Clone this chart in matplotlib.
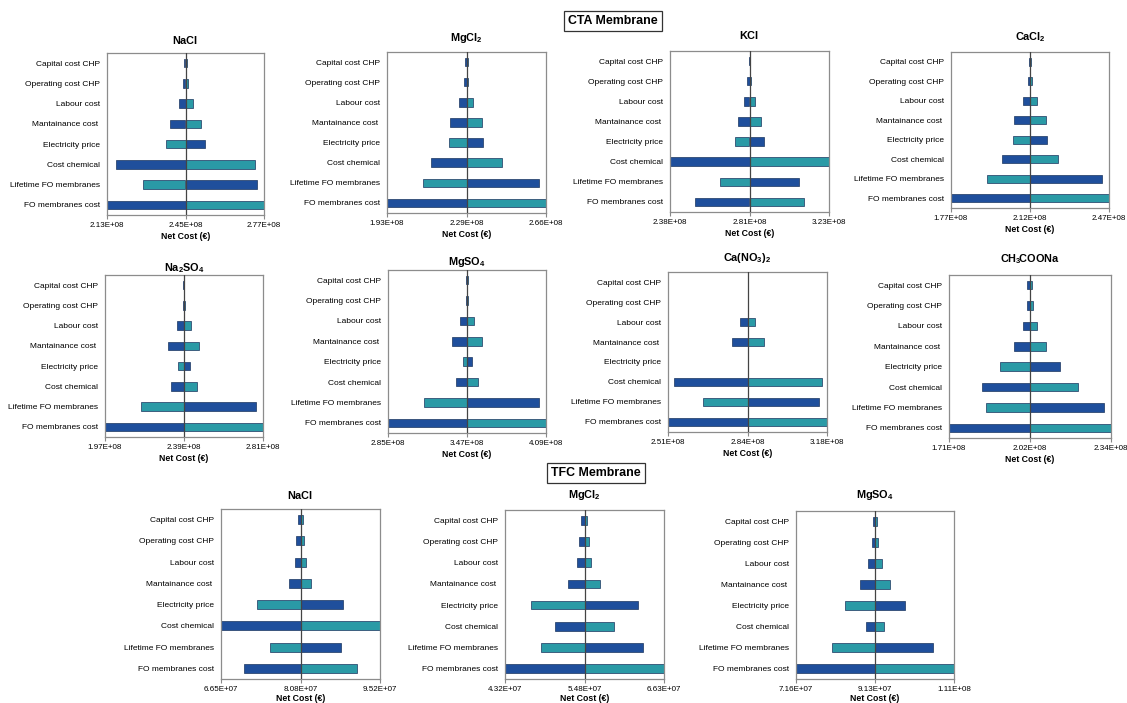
import numpy as np
import matplotlib.pyplot as plt

plt.rcParams['font.family'] = ['Liberation Sans', 'DejaVu Sans']
plt.rcParams['mathtext.fontset'] = 'custom'
plt.rcParams['mathtext.rm'] = 'Liberation Sans:bold'
plt.rcParams['mathtext.it'] = 'Liberation Sans:bold'
plt.rcParams['mathtext.bf'] = 'Liberation Sans:bold'

# Parametros (de cima para baixo)
parametros = ["Capital cost CHP", "Operating cost CHP", "Labour cost", "Mantainance cost ",
              "Electricity price", "Cost chemical", "Lifetime FO membranes", "FO membranes cost"]

# --- CTA membrane ---
cta_nacl_base = 2.45e8
cta_nacl_min = [2.444e8, 2.441e8, 2.422e8, 2.386e8, 2.372e8, 2.165e8, 2.276e8, 2.13e8]
cta_nacl_max = [2.456e8, 2.459e8, 2.479e8, 2.513e8, 2.528e8, 2.734e8, 2.740e8, 2.77e8]
cta_nacl_ticks = ["2.13E+08", "2.45E+08", "2.77E+08"]

cta_mgcl2_base = 2.295e8
cta_mgcl2_min = [2.288e8, 2.285e8, 2.262e8, 2.221e8, 2.216e8, 2.133e8, 2.094e8, 1.93e8]
cta_mgcl2_max = [2.300e8, 2.303e8, 2.327e8, 2.367e8, 2.371e8, 2.457e8, 2.626e8, 2.66e8]
cta_mgcl2_ticks = ["1.93E+08", "2.29E+08", "2.66E+08"]

cta_kcl_base = 2.805e8
cta_kcl_min = [2.801e8, 2.794e8, 2.776e8, 2.746e8, 2.728e8, 2.38e8, 2.647e8, 2.514e8]
cta_kcl_max = [2.810e8, 2.815e8, 2.833e8, 2.864e8, 2.883e8, 3.23e8, 3.070e8, 3.097e8]
cta_kcl_ticks = ["2.38E+08", "2.81E+08", "3.23E+08"]

cta_cacl2_base = 2.12e8
cta_cacl2_min = [2.115e8, 2.112e8, 2.088e8, 2.050e8, 2.043e8, 1.996e8, 1.931e8, 1.77e8]
cta_cacl2_max = [2.125e8, 2.128e8, 2.151e8, 2.190e8, 2.197e8, 2.245e8, 2.438e8, 2.47e8]
cta_cacl2_ticks = ["1.77E+08", "2.12E+08", "2.47E+08"]

cta_na2so4_base = 2.39e8
cta_na2so4_min = [2.387e8, 2.386e8, 2.352e8, 2.306e8, 2.357e8, 2.322e8, 2.162e8, 1.97e8]
cta_na2so4_max = [2.392e8, 2.393e8, 2.427e8, 2.471e8, 2.423e8, 2.457e8, 2.771e8, 2.81e8]
cta_na2so4_ticks = ["1.97E+08", "2.39E+08", "2.81E+08"]

cta_mgso4_base = 3.47e8
cta_mgso4_min = [3.465e8, 3.465e8, 3.418e8, 3.352e8, 3.436e8, 3.381e8, 3.132e8, 2.85e8]
cta_mgso4_max = [3.474e8, 3.474e8, 3.522e8, 3.588e8, 3.506e8, 3.559e8, 4.035e8, 4.09e8]
cta_mgso4_ticks = ["2.85E+08", "3.47E+08", "4.09E+08"]

cta_cano3_base = 2.845e8
cta_cano3_min = [2.845e8, 2.845e8, 2.815e8, 2.779e8, 2.845e8, 2.535e8, 2.657e8, 2.51e8]
cta_cano3_max = [2.845e8, 2.845e8, 2.877e8, 2.913e8, 2.845e8, 3.158e8, 3.145e8, 3.18e8]
cta_cano3_ticks = ["2.51E+08", "2.84E+08", "3.18E+08"]

cta_ch3coona_base = 2.025e8
cta_ch3coona_min = [2.015e8, 2.012e8, 1.996e8, 1.962e8, 1.909e8, 1.838e8, 1.853e8, 1.71e8]
cta_ch3coona_max = [2.032e8, 2.036e8, 2.053e8, 2.088e8, 2.141e8, 2.211e8, 2.313e8, 2.34e8]
cta_ch3coona_ticks = ["1.71E+08", "2.02E+08", "2.34E+08"]

# --- TFC membrane ---
tfc_nacl_base = 8.085e7
tfc_nacl_min = [8.034e7, 8.004e7, 7.986e7, 7.877e7, 7.303e7, 6.65e7, 7.533e7, 7.067e7]
tfc_nacl_max = [8.125e7, 8.155e7, 8.179e7, 8.282e7, 8.856e7, 9.52e7, 8.820e7, 9.103e7]
tfc_nacl_ticks = ["6.65E+07", "8.08E+07", "9.52E+07"]

tfc_mgcl2_base = 5.475e7
tfc_mgcl2_min = [5.424e7, 5.400e7, 5.366e7, 5.240e7, 4.699e7, 5.045e7, 4.845e7, 4.32e7]
tfc_mgcl2_max = [5.512e7, 5.546e7, 5.575e7, 5.696e7, 6.246e7, 5.901e7, 6.319e7, 6.63e7]
tfc_mgcl2_ticks = ["4.32E+07", "5.48E+07", "6.63E+07"]

tfc_mgso4_base = 9.13e7
tfc_mgso4_min = [9.080e7, 9.047e7, 8.964e7, 8.748e7, 8.390e7, 8.897e7, 8.049e7, 7.16e7]
tfc_mgso4_max = [9.180e7, 9.205e7, 9.305e7, 9.513e7, 9.870e7, 9.363e7, 10.584e7, 11.1e7]
tfc_mgso4_ticks = ["7.16E+07", "9.13E+07", "1.11E+08"]

# cores: azul escuro / turquesa ; True = azul do lado esquerdo
azul = "#1f4f9c"
turquesa = "#2a9aa6"
azul_esquerda = [True, True, True, True, False, True, False, True]

graficos = [
    (r"$\mathrm{NaCl}$", cta_nacl_base, cta_nacl_min, cta_nacl_max, cta_nacl_ticks),
    (r"$\mathrm{MgCl_2}$", cta_mgcl2_base, cta_mgcl2_min, cta_mgcl2_max, cta_mgcl2_ticks),
    (r"$\mathrm{KCl}$", cta_kcl_base, cta_kcl_min, cta_kcl_max, cta_kcl_ticks),
    (r"$\mathrm{CaCl_2}$", cta_cacl2_base, cta_cacl2_min, cta_cacl2_max, cta_cacl2_ticks),
    (r"$\mathrm{Na_2SO_4}$", cta_na2so4_base, cta_na2so4_min, cta_na2so4_max, cta_na2so4_ticks),
    (r"$\mathrm{MgSO_4}$", cta_mgso4_base, cta_mgso4_min, cta_mgso4_max, cta_mgso4_ticks),
    (r"$\mathrm{Ca(NO_3)_2}$", cta_cano3_base, cta_cano3_min, cta_cano3_max, cta_cano3_ticks),
    (r"$\mathrm{CH_3\!COONa}$", cta_ch3coona_base, cta_ch3coona_min, cta_ch3coona_max, cta_ch3coona_ticks),
    (r"$\mathrm{NaCl}$", tfc_nacl_base, tfc_nacl_min, tfc_nacl_max, tfc_nacl_ticks),
    (r"$\mathrm{MgCl_2}$", tfc_mgcl2_base, tfc_mgcl2_min, tfc_mgcl2_max, tfc_mgcl2_ticks),
    (r"$\mathrm{MgSO_4}$", tfc_mgso4_base, tfc_mgso4_min, tfc_mgso4_max, tfc_mgso4_ticks),
]

# caixas dos eixos em pixels (esquerda, topo, direita, baixo) e altura do titulo
caixas = [(107, 53, 264, 215), (387, 52, 546, 213), (670, 51, 829, 212), (951, 52, 1109, 208),
          (105, 275, 263, 437), (388, 270, 546, 433), (668, 272, 827, 432), (949, 275, 1111, 438),
          (221, 509, 380, 679), (505, 510, 664, 679), (796, 511, 954, 679)]
titulo_y = [40, 38, 35, 37, 268, 262, 258, 259, 495, 495, 495]

W, H = 1127, 703
fig = plt.figure(figsize=(W / 100, H / 100), dpi=100)

y = np.arange(len(parametros))
for (titulo, base, vmin, vmax, rotulos), (l, t, r, b), ty in zip(graficos, caixas, titulo_y):
    ax = fig.add_axes([l / W, 1 - b / H, (r - l) / W, (b - t) / H])
    vmin = np.array(vmin)
    vmax = np.array(vmax)
    cor_esq = [azul if a else turquesa for a in azul_esquerda]
    cor_dir = [turquesa if a else azul for a in azul_esquerda]
    ax.barh(y, base - vmin, left=vmin, height=0.42, color=cor_esq, edgecolor="#1b355f", linewidth=0.5, zorder=2)
    ax.barh(y, vmax - base, left=base, height=0.42, color=cor_dir, edgecolor="#1b355f", linewidth=0.5, zorder=2)
    ax.axvline(base, color="#444444", linewidth=0.9, zorder=3)

    lo, hi = vmin.min(), vmax.max()
    ax.set_xlim(lo, hi)
    ax.set_ylim(len(parametros) - 0.5, -0.5)
    ax.set_xticks([lo, base, hi])
    ax.set_xticklabels(rotulos, fontsize=5.8)
    ax.set_yticks(y)
    ax.set_yticklabels(parametros, fontsize=6.0)
    ax.tick_params(axis="y", length=0, pad=5)
    ax.tick_params(axis="x", length=3, color="#888888", pad=2)
    for s in ax.spines.values():
        s.set_color("#8c8c8c")
        s.set_linewidth(0.9)
    ax.set_xlabel("Net Cost (€)", fontsize=6.3, fontweight="bold", labelpad=1 if b > 600 else 2)
    fig.text((l + r) / 2 / W, 1 - ty / H, titulo, fontsize=7.8, ha="center", va="center")

fig.text(613 / W, 1 - 21 / H, "CTA Membrane", fontsize=8.9, fontweight="bold", ha="center", va="center",
         bbox=dict(boxstyle="square,pad=0.3", facecolor="white", edgecolor="#333333", linewidth=0.9))
fig.text(596 / W, 1 - 473 / H, "TFC Membrane", fontsize=8.9, fontweight="bold", ha="center", va="center",
         bbox=dict(boxstyle="square,pad=0.3", facecolor="white", edgecolor="#333333", linewidth=0.9))

fig.savefig("out.png", dpi=100)
